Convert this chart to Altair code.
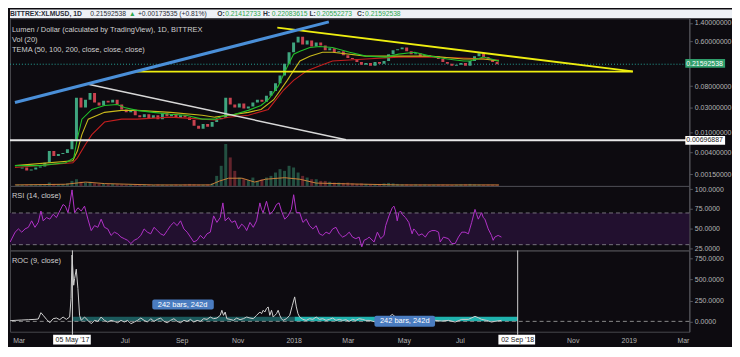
import altair as alt
import pandas as pd
import numpy as np

# ---------------- data ----------------
CANDLE_START = "2017-03-01"          # candles sampled every 5 days
close = [0.00195, 0.00204, 0.00179, 0.00187, 0.00204, 0.00213, 0.00253, 0.00428, 0.00344, 0.00376,
         0.00393, 0.00468, 0.00725, 0.0475, 0.0307, 0.0435, 0.0591, 0.0382, 0.0335, 0.0417,
         0.0382, 0.0435, 0.035, 0.0281, 0.0246, 0.0269, 0.0216, 0.0198, 0.0226, 0.019,
         0.0216, 0.0181, 0.0236, 0.0207, 0.0226, 0.019, 0.0216, 0.0198, 0.0174, 0.0134,
         0.0117, 0.0146, 0.0128, 0.0159, 0.0181, 0.019, 0.0475, 0.035, 0.0307, 0.0366,
         0.0294, 0.032, 0.0382, 0.0435, 0.0399, 0.0518, 0.0645, 0.0915, 0.130, 0.2195,
         0.371, 0.574, 0.747, 0.526, 0.627, 0.482, 0.574, 0.504, 0.405, 0.442,
         0.371, 0.388, 0.325, 0.285, 0.273, 0.239, 0.21, 0.229, 0.201, 0.239,
         0.2195, 0.25, 0.34, 0.405, 0.423, 0.461, 0.388, 0.34, 0.355, 0.311,
         0.325, 0.298, 0.311, 0.273, 0.239, 0.2195, 0.201, 0.21, 0.229, 0.201,
         0.25, 0.311, 0.355, 0.298, 0.261, 0.239, 0.2159]
volume = [0.8, 0.6, 0.7, 0.9, 0.6, 0.8, 1.0, 2.0, 1.2, 0.9, 1.0, 1.5,
          3.0, 4.0, 2.5, 2.0, 2.5,
          1.5, 1.2, 1.4, 1.0, 1.2, 1.0,
          0.9, 0.7, 0.8, 0.7, 0.6, 0.8, 0.7, 0.6, 0.9, 0.7, 0.6, 0.7, 0.8, 0.6, 0.9, 1.2, 1.0, 0.8, 0.7, 0.9, 1.5,
          6, 12, 25, 17, 9,
          5, 4, 3.5, 5, 3, 4, 5, 6,
          8, 10, 9, 12, 11, 8,
          6, 5, 4, 4, 3, 3, 2.5, 2,
          2, 1.8, 2, 1.5, 1.2, 1.5, 1.2, 1.0, 1.0, 1.2, 1.5, 1.8, 1.5, 1.2, 1.0, 1.0, 0.8, 0.9, 0.8, 0.8,
          0.7, 0.7, 0.8, 0.8, 0.7, 0.6, 0.7, 0.9, 1.0, 1.2, 0.9, 0.8, 0.7, 0.8, 0.7, 0.6]

vol_ma = [("2017-02-26", 0.6), ("2017-04-23", 1.0), ("2017-05-15", 2.3), ("2017-06-05", 1.4),
          ("2017-07-29", 0.6), ("2017-09-30", 0.6), ("2017-10-10", 2.9), ("2017-10-20", 4.6),
          ("2017-11-04", 4.6), ("2017-11-18", 2.3), ("2017-11-30", 4.0), ("2017-12-21", 4.9),
          ("2018-01-07", 4.0), ("2018-01-25", 1.7), ("2018-03-03", 1.2), ("2018-04-26", 0.6),
          ("2018-08-15", 0.6)]

tema50 = [("2017-02-26", 0.00222), ("2017-03-25", 0.00222), ("2017-04-23", 0.00253), ("2017-05-02", 0.00315),
          ("2017-05-06", 0.00756), ("2017-05-11", 0.0181), ("2017-05-22", 0.0281), ("2017-06-05", 0.0335),
          ("2017-06-19", 0.035), ("2017-06-27", 0.0307), ("2017-07-11", 0.0269), ("2017-07-29", 0.0246),
          ("2017-08-17", 0.0226), ("2017-09-03", 0.0216), ("2017-09-21", 0.0181), ("2017-10-05", 0.0181),
          ("2017-10-16", 0.0216), ("2017-10-27", 0.0226), ("2017-11-11", 0.0269), ("2017-11-25", 0.0335),
          ("2017-12-03", 0.0435), ("2017-12-14", 0.0802), ("2017-12-24", 0.1925), ("2017-12-31", 0.34),
          ("2018-01-07", 0.388), ("2018-01-18", 0.461), ("2018-01-29", 0.482), ("2018-02-12", 0.461),
          ("2018-03-03", 0.371), ("2018-03-21", 0.311), ("2018-04-12", 0.298), ("2018-04-26", 0.34),
          ("2018-05-14", 0.371), ("2018-05-31", 0.311), ("2018-06-19", 0.273), ("2018-07-07", 0.25),
          ("2018-07-14", 0.25), ("2018-07-29", 0.298), ("2018-08-15", 0.25)]
tema100 = [("2017-02-26", 0.00222), ("2017-05-01", 0.00277), ("2017-05-06", 0.00428), ("2017-05-11", 0.009),
           ("2017-05-18", 0.0181), ("2017-06-05", 0.0246), ("2017-06-24", 0.0269), ("2017-07-11", 0.0269),
           ("2017-08-17", 0.0246), ("2017-09-21", 0.0216), ("2017-10-05", 0.0198), ("2017-10-20", 0.0216),
           ("2017-11-11", 0.0246), ("2017-11-25", 0.0281), ("2017-12-09", 0.0435), ("2017-12-24", 0.1043),
           ("2017-12-31", 0.1616), ("2018-01-07", 0.25), ("2018-01-18", 0.311), ("2018-02-01", 0.371),
           ("2018-02-12", 0.371), ("2018-03-21", 0.311), ("2018-04-26", 0.311), ("2018-05-31", 0.311),
           ("2018-07-07", 0.273), ("2018-07-29", 0.273), ("2018-08-15", 0.25)]
tema200 = [("2017-02-26", 0.00204), ("2017-05-01", 0.00253), ("2017-05-06", 0.00315), ("2017-05-15", 0.00582),
           ("2017-05-22", 0.009), ("2017-06-05", 0.0159), ("2017-06-24", 0.0181), ("2017-07-11", 0.0181),
           ("2017-08-17", 0.0198), ("2017-09-21", 0.0181), ("2017-10-05", 0.0174), ("2017-10-20", 0.0198),
           ("2017-11-11", 0.0216), ("2017-12-03", 0.0281), ("2017-12-20", 0.0674), ("2017-12-31", 0.1043),
           ("2018-01-15", 0.1616), ("2018-01-29", 0.201), ("2018-02-12", 0.25), ("2018-03-21", 0.273),
           ("2018-04-26", 0.298), ("2018-05-31", 0.298), ("2018-07-07", 0.285), ("2018-07-29", 0.273),
           ("2018-08-15", 0.261)]

trend_blue = [("2017-02-26", 0.0383), ("2018-02-08", 1.458)]
trend_white = [("2017-05-18", 0.0876), ("2018-02-27", 0.00715)]
trend_yellow_top = [("2017-12-13", 1.121), ("2019-01-10", 0.157)]
trend_yellow_flat = [("2017-07-10", 0.1546), ("2019-01-10", 0.1546)]

last_price = 0.21592538
marked_price = 0.00696887
price_ticks = [1.4, 0.6, 0.08, 0.03, 0.01, 0.004, 0.0015]

# RSI / ROC: (days after 2017-03-01, value)
SERIES_BASE = "2017-03-01"
rsi_points = [(-2.8, 33.4), (2.6, 45.8), (6.2, 49.9), (9.8, 45.8), (13.4, 49.9), (17.0, 51.9), (20.6, 60.1),
              (24.2, 51.9), (27.8, 58.1), (30.7, 72.5), (33.2, 60.1), (36.8, 64.2), (40.4, 62.2), (44.0, 68.3),
              (47.6, 64.2), (51.2, 72.5), (54.8, 80.7), (57.3, 78.6), (60.2, 70.4), (62.0, 80.7), (64.6, 99.1),
              (67.4, 70.4), (71.0, 76.6), (74.6, 72.5), (78.2, 78.6), (81.9, 62.2), (85.5, 47.8), (89.1, 54.0),
              (92.7, 51.9), (96.3, 62.2), (99.9, 51.9), (103.5, 49.9), (107.1, 41.7), (110.7, 45.8), (114.3, 43.7),
              (117.9, 39.6), (121.5, 37.6), (125.1, 35.5), (128.7, 31.4), (132.3, 35.5), (135.9, 37.6), (139.5, 41.7),
              (143.1, 49.9), (146.7, 45.8), (150.3, 43.7), (153.9, 51.9), (157.5, 47.8), (161.1, 43.7), (164.7, 41.7),
              (168.3, 47.8), (171.9, 54.0), (175.5, 58.1), (179.1, 54.0), (182.8, 60.1), (186.4, 49.9), (190.0, 45.8),
              (193.6, 39.6), (197.2, 33.4), (200.8, 35.5), (204.4, 41.7), (208.0, 37.6), (211.6, 43.7), (215.2, 45.8),
              (218.8, 66.3), (222.4, 58.1), (226.0, 64.2), (228.9, 82.7), (231.4, 60.1), (235.0, 64.2), (238.6, 58.1),
              (242.2, 60.1), (245.8, 49.9), (249.4, 56.0), (253.0, 51.9), (254.8, 47.8), (258.4, 58.1), (262.0, 51.9),
              (265.6, 60.1), (269.2, 82.7), (271.0, 74.5), (272.8, 70.4), (276.4, 84.8), (280.0, 68.3), (283.7, 72.5),
              (287.3, 80.7), (290.1, 82.7), (292.7, 72.5), (296.3, 62.2), (299.9, 66.3), (303.5, 74.5), (306.0, 93.0),
              (308.9, 70.4), (312.5, 70.4), (316.1, 58.1), (319.7, 62.2), (323.3, 54.0), (326.9, 49.9), (330.5, 54.0),
              (334.1, 43.7), (337.7, 41.7), (341.3, 45.8), (344.9, 43.7), (348.5, 49.9), (352.1, 51.9), (355.7, 43.7),
              (359.3, 39.6), (362.9, 41.7), (366.5, 45.8), (370.1, 39.6), (373.7, 37.6), (377.3, 39.6), (380.2, 27.3),
              (382.7, 35.5), (386.3, 37.6), (388.2, 39.6), (393.6, 33.4), (397.2, 45.8), (400.8, 37.6), (404.4, 41.7),
              (406.2, 54.0), (409.8, 66.3), (413.4, 76.6), (415.2, 78.6), (417.0, 72.5), (418.8, 60.1), (420.6, 70.4),
              (422.4, 72.5), (424.2, 68.3), (427.8, 64.2), (431.4, 58.1), (435.0, 43.7), (436.8, 49.9), (438.6, 47.8),
              (442.2, 41.7), (445.8, 43.7), (449.4, 39.6), (453.0, 45.8), (456.6, 47.8), (460.2, 47.8), (463.8, 45.8),
              (465.6, 33.4), (469.2, 39.6), (474.6, 37.6), (478.3, 31.4), (481.9, 31.4), (485.5, 39.6), (489.1, 45.8),
              (492.7, 45.8), (496.3, 43.7), (499.9, 58.1), (503.5, 74.5), (505.3, 68.3), (507.1, 62.2), (510.7, 70.4),
              (512.5, 64.2), (514.3, 62.2), (517.9, 49.9), (521.5, 41.7), (523.3, 35.5), (525.1, 39.6), (528.7, 41.7),
              (532.3, 39.6)]
roc_points = [(-2.8, 8), (2.6, 12), (9.8, 16), (17.0, 20), (24.2, 24), (27.8, 28), (30.7, 104), (33.2, 72),
              (36.8, 24), (40.4, -16), (44.0, 32), (47.6, 40), (51.2, 20), (54.8, 52), (58.4, 24), (62.0, 52),
              (63.5, 273), (64.6, 794), (66.4, 433), (67.4, 513), (69.2, 625), (71.0, 393), (72.8, 72), (74.6, 12),
              (78.2, 52), (81.9, 12), (85.5, -28), (89.1, 12), (92.7, 0), (96.3, 52), (99.9, 12), (103.5, -8),
              (107.1, 12), (110.7, 0), (114.3, -16), (117.9, 12), (121.5, -8), (125.1, 12), (128.7, -28), (132.3, -8),
              (135.9, 12), (139.5, 40), (143.1, 12), (146.7, -8), (150.3, 32), (153.9, 0), (157.5, 24), (161.1, 40),
              (164.7, 0), (168.3, -16), (171.9, 12), (175.5, 32), (179.1, 0), (182.8, -16), (186.4, 12), (190.0, 0),
              (193.6, 24), (197.2, -8), (200.8, 12), (204.4, 0), (208.0, 32), (211.6, 24), (215.2, 52), (218.8, 32),
              (222.4, 40), (226.0, 72), (227.8, 133), (229.6, 72), (231.4, 112), (233.2, 32), (236.8, 24), (240.4, 12),
              (244.0, 40), (247.6, 20), (251.2, 32), (254.8, 52), (258.4, 40), (262.0, 32), (265.6, 72), (269.2, 112),
              (271.0, 92), (272.8, 133), (274.6, 112), (276.4, 153), (278.2, 173), (280.0, 72), (281.9, 133), (283.7, 52),
              (285.5, 72), (287.3, 92), (289.1, 133), (290.9, 72), (292.7, 32), (294.5, 12), (298.1, 32), (301.7, 72),
              (304.6, 193), (307.1, 293), (308.9, 173), (310.7, 92), (312.5, 52), (316.1, 24), (319.7, 12), (323.3, 32),
              (326.9, 24), (330.5, 52), (334.1, 24), (337.7, 32), (341.3, 12), (344.9, 24), (348.5, 40), (352.1, 12),
              (355.7, 24), (359.3, 12), (362.9, 20), (366.5, 0), (370.1, 24), (373.7, 12), (377.3, 32), (380.9, 24),
              (384.5, 12), (388.2, 12), (395.4, -8), (402.6, 32), (409.8, 52), (413.4, 84), (417.0, 52), (424.2, 32),
              (431.4, 12), (438.6, 32), (445.8, 12), (453.0, 0), (460.2, 12), (467.4, 4), (474.6, 12), (481.9, -8),
              (489.1, 24), (496.3, 24), (503.5, 60), (507.1, 44), (510.7, 24), (516.1, 12), (521.5, -8), (525.1, 0),
              (532.3, 12)]
rsi_ticks = [25, 50, 75, 100]
roc_ticks = [0, 250, 500, 750]

# date-range measurement boxes (start, end, colour) and their labels
ranges = [("2017-05-05", "2018-01-02", "#1b5a5c"), ("2018-01-02", "2018-09-02", "#1fb3ae")]
range_labels = [("2017-07-31", "2017-10-06", "2017-09-02", 141, 261, 201, "242 bars, 242d"),
                ("2018-03-30", "2018-06-04", "2018-05-02", -64, 68, 2, "242 bars, 242d")]
crosshair_dates = [("2017-05-05", "2017-04-14", "2017-05-25", "05 May '17"),
                   ("2018-09-02", "2018-08-12", "2018-09-21", "02 Sep '18")]
axis_months = [(2017, 3), (2017, 7), (2017, 9), (2017, 11), (2018, 1), (2018, 3), (2018, 5),
               (2018, 7), (2018, 11), (2019, 1), (2019, 3)]

header_segments = [("BITTREX:XLMUSD, 1D", "dark", "bold"), ("0.21592538", "dark", "normal"),
                   ("\u25B2", "green", "normal"), ("+0.00173535 (+0.81%)", "dark", "normal"),
                   ("O:", "dark", "bold"), ("0.21412733", "green", "normal"),
                   ("H:", "dark", "bold"), ("0.22083615", "green", "normal"),
                   ("L:", "dark", "bold"), ("0.20552273", "green", "normal"),
                   ("C:", "dark", "bold"), ("0.21592538", "green", "normal")]
header_x = [0, 81, 120, 129, 209, 217, 255, 264, 302, 309, 350, 358]

# ---------------- styling ----------------
W = 685
H_HDR, H_PRICE, H_RSI, H_ROC = 9, 169, 65, 82
BG = "#0d0b10"
UP, DN = "#3fa57f", "#c9424f"
FONT = "Liberation Sans"
LBL = "#b4b4b4"

XS = alt.Scale(domain=[alt.DateTime(year=2017, month=2, date=26), alt.DateTime(year=2019, month=3, date=8)])
PS = alt.Scale(type="log", domain=[0.000889, 1.714], nice=False)
VS = alt.Scale(domain=[0, 100])
RS = alt.Scale(domain=[22.8, 104.1], nice=False, zero=False)
CS = alt.Scale(domain=[-124, 850], nice=False, zero=False)
DIRC = alt.Scale(domain=["up", "down"], range=[UP, DN])

PAX = alt.Axis(orient="right", values=price_ticks, format=".8f", title=None, grid=False,
               tickSize=3, labelPadding=2)
RAX = alt.Axis(orient="right", values=rsi_ticks, format=".4f", title=None, grid=False,
               tickSize=3, labelPadding=2)
CAX = alt.Axis(orient="right", values=roc_ticks, format=".4f", title=None, grid=False,
               tickSize=3, labelPadding=2)
XAX = alt.Axis(values=[alt.DateTime(year=y, month=m, date=1) for y, m in axis_months],
               labelExpr="month(datum.value) == 0 ? timeFormat(datum.value, '%Y') : timeFormat(datum.value, '%b')",
               ticks=False, domain=False, grid=False, labelFlush=6, labelPadding=5, title=None)


def X(field="date", axis=None):
    return alt.X(f"{field}:T", scale=XS, axis=axis, title=None)


def pairs_df(pairs):
    return pd.DataFrame({"date": pd.to_datetime([p[0] for p in pairs]), "v": [p[1] for p in pairs]})


def offset_df(pairs):
    base = pd.Timestamp(SERIES_BASE)
    return pd.DataFrame({"date": [base + pd.Timedelta(days=p[0]) for p in pairs], "v": [p[1] for p in pairs]})


def label(text, y, size=7.5, color="#cfcfcf"):
    return alt.Chart(pd.DataFrame({"t": [text]})).mark_text(
        align="left", baseline="middle", font=FONT, fontSize=size, color=color
    ).encode(text="t:N", x=alt.value(2), y=alt.value(y))


# ---------------- header ----------------
hdr_layers = []
for (txt, col, wt), hx in zip(header_segments, header_x):
    hdr_layers.append(alt.Chart(pd.DataFrame({"t": [txt]})).mark_text(
        align="left", baseline="middle", font=FONT, fontSize=6.8, fontWeight=wt,
        color="#2a2e39" if col == "dark" else "#2fa84f"
    ).encode(text="t:N", x=alt.value(hx), y=alt.value(4.5)))
header = alt.layer(*hdr_layers).properties(width=728, height=H_HDR,
                                           view=alt.ViewBackground(fill="#eef1f6", strokeWidth=0))

# ---------------- price pane ----------------
dates = pd.date_range(CANDLE_START, periods=len(close), freq="5D")
opens = [close[0]] + close[:-1]
cdf = pd.DataFrame({"date": dates, "open": opens, "close": close, "vol": volume})
cdf["dir"] = np.where(cdf["close"] >= cdf["open"], "up", "down")

vol_bars = alt.Chart(cdf).mark_bar(size=3, opacity=0.45).encode(
    x=X(), y=alt.Y("vol:Q", scale=VS, axis=None),
    color=alt.Color("dir:N", scale=DIRC, legend=None))
vol_line = alt.Chart(pairs_df(vol_ma)).mark_line(color="#c8803a", strokeWidth=1).encode(
    x=X(), y=alt.Y("v:Q", scale=VS, axis=None))
vol_group = alt.layer(vol_bars, vol_line)

price_rule = alt.Chart(pd.DataFrame({"v": [last_price]})).mark_rule(
    color="#26a69a", strokeDash=[1, 2], strokeWidth=1).encode(y=alt.Y("v:Q", scale=PS, axis=PAX))
candles = alt.Chart(cdf).mark_bar(size=3, clip=True).encode(
    x=X(), y=alt.Y("open:Q", scale=PS, axis=PAX), y2="close:Q",
    color=alt.Color("dir:N", scale=DIRC, legend=None))


def pline(pairs, color, width):
    return alt.Chart(pairs_df(pairs)).mark_line(color=color, strokeWidth=width, clip=True).encode(
        x=X(), y=alt.Y("v:Q", scale=PS, axis=PAX))


t50 = pline(tema50, "#22c02a", 1.1)
t100 = pline(tema100, "#c9b91c", 1.1)
t200 = pline(tema200, "#c41f1f", 1.1)
y_flat = pline(trend_yellow_flat, "#eeee10", 1.8)
y_top = pline(trend_yellow_top, "#eeee10", 1.8)
w_line = pline(trend_white, "#d8d8d8", 1.5)
b_line = pline(trend_blue, "#4a8fd8", 3)
mark_rule = alt.Chart(pd.DataFrame({"v": [marked_price]})).mark_rule(
    color="#e8e8e8", strokeWidth=2).encode(y=alt.Y("v:Q", scale=PS, axis=PAX))


def price_box(value, lo, hi, fill, tcol):
    d = pd.DataFrame({"x0": [pd.Timestamp("2019-03-09")], "x1": [pd.Timestamp("2019-04-22")],
                      "tx": [pd.Timestamp("2019-03-10")], "lo": [lo], "hi": [hi],
                      "v": [value], "t": [f"{value:.8f}"]})
    r = alt.Chart(d).mark_rect(color=fill).encode(
        x=X("x0"), x2="x1:T", y=alt.Y("lo:Q", scale=PS, axis=PAX), y2="hi:Q")
    t = alt.Chart(d).mark_text(align="left", baseline="middle", font=FONT, fontSize=7, color=tcol).encode(
        x=X("tx"), y=alt.Y("v:Q", scale=PS, axis=PAX), text="t:N")
    return r + t


box1 = price_box(last_price, 0.184, 0.273, "#2f9e6b", "#ffffff")
box2 = price_box(marked_price, 0.0057, 0.0085, "#ffffff", "#222222")

price_group = alt.layer(price_rule, candles, t200, t100, t50, y_flat, y_top, w_line, b_line, mark_rule,
                        box1, box2,
                        label("Lumen / Dollar (calculated by TradingView), 1D, BITTREX", 12),
                        label("Vol (20)", 22),
                        label("TEMA (50, 100, 200, close, close, close)", 32))
price_pane = alt.layer(vol_group, price_group).resolve_scale(y="independent").properties(
    width=W, height=H_PRICE)

# ---------------- RSI pane ----------------
rsi_band = alt.Chart(pd.DataFrame({"lo": [30], "hi": [70]})).mark_rect(color="#22102f").encode(
    x=alt.value(0), x2=alt.value(W), y=alt.Y("lo:Q", scale=RS, axis=RAX), y2="hi:Q")
rsi_rules = alt.Chart(pd.DataFrame({"v": [30, 70]})).mark_rule(
    color="#77737d", strokeDash=[4, 3], strokeWidth=1).encode(y=alt.Y("v:Q", scale=RS, axis=RAX))
rsi_line = alt.Chart(offset_df(rsi_points)).mark_line(color="#b233c8", strokeWidth=1, clip=True).encode(
    x=X(), y=alt.Y("v:Q", scale=RS, axis=RAX))
rsi_pane = alt.layer(rsi_band, rsi_rules, rsi_line, label("RSI (14, close)", 10)).properties(
    width=W, height=H_RSI)

# ---------------- ROC pane ----------------
band_layers = []
for s, e, col in ranges:
    bd = pd.DataFrame({"s": [pd.Timestamp(s)], "e": [pd.Timestamp(e)], "lo": [0], "hi": [55]})
    band_layers.append(alt.Chart(bd).mark_rect(color=col).encode(
        x=alt.X("s:T", scale=XS, axis=XAX, title=None), x2="e:T",
        y=alt.Y("lo:Q", scale=CS, axis=CAX), y2="hi:Q"))
roc_zero = alt.Chart(pd.DataFrame({"v": [0]})).mark_rule(
    color="#8a8a8a", strokeDash=[4, 3], strokeWidth=1).encode(y=alt.Y("v:Q", scale=CS, axis=CAX))
roc_line = alt.Chart(offset_df(roc_points)).mark_line(color="#cfcfcf", strokeWidth=1, clip=True).encode(
    x=alt.X("date:T", scale=XS, axis=XAX, title=None), y=alt.Y("v:Q", scale=CS, axis=CAX))

ldf = pd.DataFrame({"x0": pd.to_datetime([r[0] for r in range_labels]),
                    "x1": pd.to_datetime([r[1] for r in range_labels]),
                    "xm": pd.to_datetime([r[2] for r in range_labels]),
                    "lo": [r[3] for r in range_labels], "hi": [r[4] for r in range_labels],
                    "ym": [r[5] for r in range_labels], "t": [r[6] for r in range_labels]})
lab_box = alt.Chart(ldf).mark_rect(color="#4a7cc0", cornerRadius=2).encode(
    x=alt.X("x0:T", scale=XS, axis=XAX, title=None), x2="x1:T",
    y=alt.Y("lo:Q", scale=CS, axis=CAX), y2="hi:Q")
lab_txt = alt.Chart(ldf).mark_text(font=FONT, fontSize=7.5, color="#ffffff", baseline="middle").encode(
    x=alt.X("xm:T", scale=XS, axis=XAX, title=None), y=alt.Y("ym:Q", scale=CS, axis=CAX), text="t:N")

xdf = pd.DataFrame({"d": pd.to_datetime([c[0] for c in crosshair_dates]),
                    "b0": pd.to_datetime([c[1] for c in crosshair_dates]),
                    "b1": pd.to_datetime([c[2] for c in crosshair_dates]),
                    "t": [c[3] for c in crosshair_dates]})
cross = alt.Chart(xdf).mark_rule(color="#d0d0d0", strokeWidth=1).encode(
    x=alt.X("d:T", scale=XS, axis=XAX, title=None), y=alt.value(0), y2=alt.value(H_ROC + 3))
cross_box = alt.Chart(xdf).mark_rect(color="#ffffff").encode(
    x=alt.X("b0:T", scale=XS, axis=XAX, title=None), x2="b1:T",
    y=alt.value(H_ROC + 3), y2=alt.value(H_ROC + 13))
cross_txt = alt.Chart(xdf).mark_text(font=FONT, fontSize=7, color="#222222", baseline="middle").encode(
    x=alt.X("d:T", scale=XS, axis=XAX, title=None), y=alt.value(H_ROC + 8), text="t:N")

roc_pane = alt.layer(*band_layers, roc_zero, roc_line, lab_box, lab_txt, cross, cross_box, cross_txt,
                     label("ROC (9, close)", 11)).properties(width=W, height=H_ROC)

chart = alt.vconcat(header, price_pane, rsi_pane, roc_pane, spacing=0, bounds="flush", padding=0).configure(
    background=BG
).configure_view(stroke="#48484e", strokeWidth=1).configure_axis(
    labelFont=FONT, labelFontSize=7, labelColor=LBL, domainColor="#55555c", tickColor="#55555c"
)

chart.save("out.html", embed_options={"renderer": "svg", "actions": False})
